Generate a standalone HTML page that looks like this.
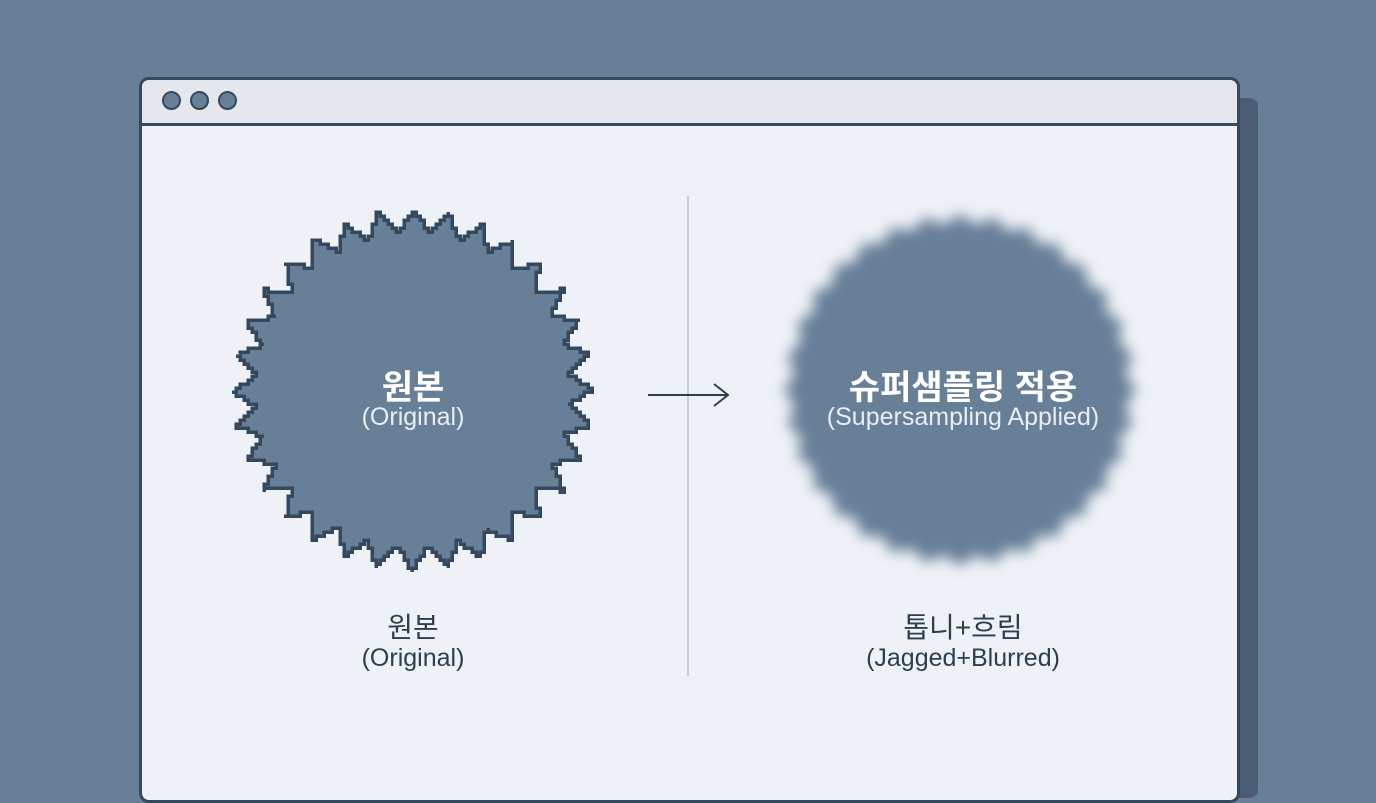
<!DOCTYPE html>
<html><head><meta charset="utf-8"><style>
body{margin:0;width:1376px;height:768px;background:#687f98;overflow:hidden;position:relative;font-family:"Liberation Sans","Noto Sans CJK KR",sans-serif}
.shadow{position:absolute;left:1200px;top:98px;width:58px;height:700px;background:#4a5d72;border-radius:8px}
.win{position:absolute;left:139px;top:77px;width:1095px;height:720px;background:#eef2f6;border:3px solid #34485e;border-radius:10px;overflow:hidden}
.bar{height:43px;background:#e4e8ed;border-bottom:3px solid #34485e;position:relative}
.dot{position:absolute;top:11px;width:15px;height:15px;border-radius:50%;background:#687f98;border:2.5px solid #34485e}
.t{position:absolute;text-align:center;width:400px;white-space:nowrap}
</style></head><body>
<div class="shadow"></div>
<div class="win"><div class="bar">
<div class="dot" style="left:20px"></div><div class="dot" style="left:48px"></div><div class="dot" style="left:76px"></div></div></div>
<svg width="1376" height="768" style="position:absolute;left:0;top:0">
<defs><filter id="b" x="-20%" y="-20%" width="140%" height="140%"><feGaussianBlur stdDeviation="7"/></filter></defs>
<path id="star" fill="#687f98" stroke="#34485e" stroke-width="3.5" shape-rendering="crispEdges"/>
<path id="star2" fill="#687f98" filter="url(#b)"/>
<line x1="688" y1="196" x2="688" y2="676" stroke="#b8c2cc" stroke-width="1.5"/>
<line x1="648" y1="395" x2="727" y2="395" stroke="#2c3e50" stroke-width="2"/>
<path d="M714 384 L728 395 L714 406" fill="none" stroke="#2c3e50" stroke-width="2"/>
</svg>
<script>
function star(cx,cy,R,r,n,step){let pts=[];
for(let i=0;i<n*2;i++){let a=i*Math.PI/n-Math.PI/2;let rr=i%2?r:R;pts.push([cx+rr*Math.cos(a),cy+rr*Math.sin(a)]);}
if(!step)return "M"+pts.map(q=>q[0]+" "+q[1]).join(" L")+"Z";
let fine=[];for(let i=0;i<pts.length;i++){let a=pts[i],b=pts[(i+1)%pts.length];for(let j=0;j<10;j++)fine.push([a[0]+(b[0]-a[0])*j/10,a[1]+(b[1]-a[1])*j/10]);}
let g=fine.map(q=>[Math.round(q[0]/step)*step,Math.round(q[1]/step)*step]);
let out=[g[0]];for(let i=1;i<=g.length;i++){let p=out[out.length-1],q=g[i%g.length];if(p[0]!==q[0]&&p[1]!==q[1])out.push([q[0],p[1]]);out.push(q);}
return "M"+out.map(q=>q[0]+" "+q[1]).join(" L")+"Z";}
document.getElementById('star').setAttribute('d',star(413,390,180,157,32,4));
document.getElementById('star2').setAttribute('d',star(960,390,176,166,32,0));
</script>
<div class="t" style="left:213px;top:360px;color:#fff;font-size:34px;font-weight:bold">원본</div>
<div class="t" style="left:213px;top:403px;color:#e8eef4;font-size:25px">(Original)</div>
<div class="t" style="left:763px;top:360px;color:#fff;font-size:34px;font-weight:bold">슈퍼샘플링 적용</div>
<div class="t" style="left:763px;top:403px;color:#e8eef4;font-size:25px">(Supersampling Applied)</div>
<div class="t" style="left:213px;top:606px;color:#2c3e50;font-size:28px">원본</div>
<div class="t" style="left:213px;top:644px;color:#2c3e50;font-size:25px">(Original)</div>
<div class="t" style="left:763px;top:606px;color:#2c3e50;font-size:28px">톱니+흐림</div>
<div class="t" style="left:763px;top:644px;color:#2c3e50;font-size:25px">(Jagged+Blurred)</div>
</body></html>
